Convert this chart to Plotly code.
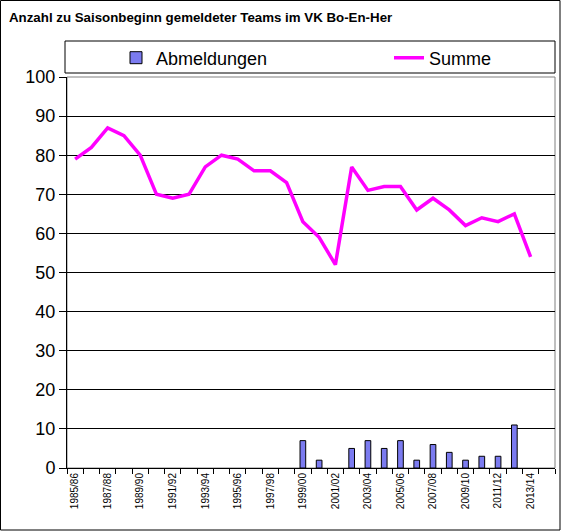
import plotly.graph_objects as go

# seasons 1985/86 .. 2014/15
seasons = [f"{y}/{str(y + 1)[-2:]}" for y in range(1985, 2015)]

summe = [79, 82, 87, 85, 80, 70, 69, 70, 77, 80,
         79, 76, 76, 73, 63, 59, 52, 77, 71, 72,
         72, 66, 69, 66, 62, 64, 63, 65, 54, None]

abmeldungen = [None] * 14 + [7, 2, None, 5, 7, 5, 7, 2, 6, 4,
                             2, 3, 3, 11, None, None]

tick_text = [s if i % 2 == 0 else "" for i, s in enumerate(seasons)]

FONT = "Liberation Sans, Arial, sans-serif"

# plot area in pixels: x 67..555, y 77..468
L, R, T, B = 67, 6, 77, 63
W, H = 561, 531
pw, ph = W - L - R, H - T - B

def px_x(x):
    return (x - L) / pw

def px_y(y):
    return (H - B - y) / ph

fig = go.Figure()

fig.add_trace(go.Bar(
    x=seasons, y=abmeldungen, name="Abmeldungen",
    marker=dict(color="#7b7bf0", line=dict(color="#000000", width=1)),
    width=0.35, legend="legend",
))

fig.add_trace(go.Scatter(
    x=seasons, y=summe, name="Summe", mode="lines",
    line=dict(color="#ff00ff", width=3.5), legend="legend2",
))

leg = dict(orientation="h", yanchor="middle", xanchor="left",
           font=dict(size=18), bgcolor="rgba(0,0,0,0)")

fig.update_layout(
    width=W, height=H,
    margin=dict(l=L, r=R, t=T, b=B, autoexpand=False),
    paper_bgcolor="white", plot_bgcolor="white",
    font=dict(family=FONT, color="black"),
    showlegend=True,
    legend=dict(leg, x=px_x(116), y=px_y(58)),
    legend2=dict(leg, x=px_x(389), y=px_y(58)),
    annotations=[dict(
        text="<b>Anzahl zu Saisonbeginn gemeldeter Teams im VK Bo-En-Her</b>",
        xref="paper", yref="paper", x=px_x(7), y=px_y(17),
        xanchor="left", yanchor="middle", showarrow=False,
        font=dict(size=13.3, family=FONT),
    )],
    shapes=[
        # outer frame
        dict(type="rect", xref="paper", yref="paper",
             x0=px_x(0.5), x1=px_x(560), y0=px_y(530), y1=px_y(0.5),
             line=dict(color="black", width=1)),
        # legend box
        dict(type="rect", xref="paper", yref="paper",
             x0=px_x(65), x1=px_x(555), y0=px_y(73), y1=px_y(41),
             line=dict(color="black", width=1)),
        # plot area border
        dict(type="rect", xref="paper", yref="paper",
             x0=0, x1=1, y0=0, y1=1,
             line=dict(color="#808080", width=1), layer="below"),
    ],
)

fig.update_xaxes(
    type="category", tickvals=seasons, ticktext=tick_text,
    tickson="boundaries", ticks="outside", ticklen=5, tickcolor="black",
    tickangle=-90, tickfont=dict(size=10, family=FONT),
    showgrid=False, showline=True, linecolor="black", linewidth=1,
)

fig.update_yaxes(
    range=[0, 100], dtick=10, ticks="outside", ticklen=7, tickcolor="black",
    tickfont=dict(size=18, family=FONT),
    showgrid=True, gridcolor="black", gridwidth=1,
    showline=True, linecolor="black", linewidth=1,
    zeroline=False,
)

fig.write_html("out.html", config={"displayModeBar": False},
               post_script="document.body.style.margin='0';")
